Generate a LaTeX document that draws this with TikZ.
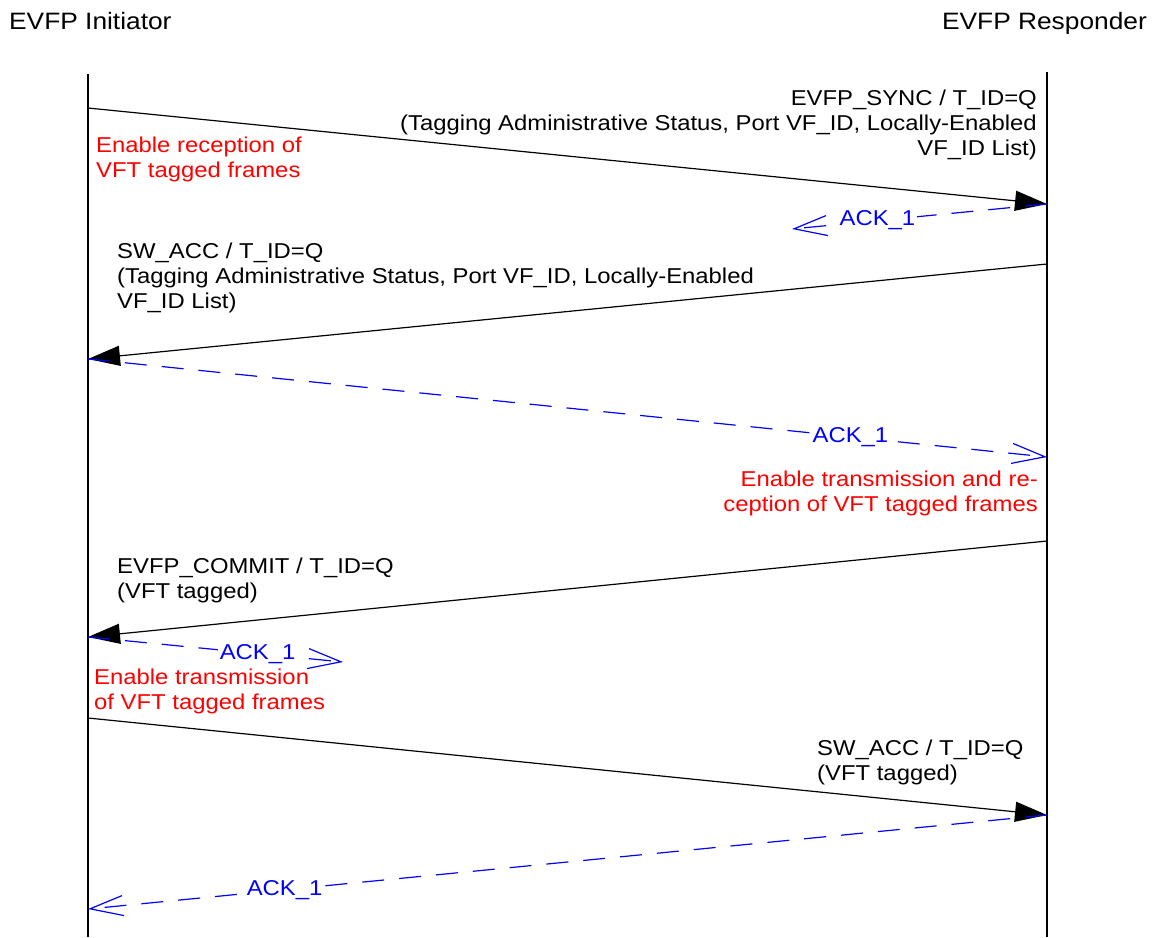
\documentclass[tikz,border=0pt]{standalone}
\usepackage{fontspec}
\setmainfont{Liberation Sans}[FakeStretch=1.11]
\usetikzlibrary{arrows.meta}
\definecolor{ackblue}{RGB}{0,0,255}
\definecolor{notered}{RGB}{255,0,0}
\begin{document}
\begin{tikzpicture}[x=1pt,y=-1pt,
  lifeline/.style={line width=2pt},
  msg/.style={line width=1.2pt, -{Triangle[length=32pt,width=20pt]}},
  ack/.style={draw=ackblue, line width=1.2pt, dash pattern=on 22pt off 15pt,
              -{Straight Barb[length=33pt,width=20pt,line width=1.2pt]}},
  acklabel/.style={fill=white, text=ackblue, font=\fontsize{21.5}{25}\selectfont, inner sep=2pt},
  msglabel/.style={font=\fontsize{21.5}{25}\selectfont, inner sep=0pt},
  note/.style={font=\fontsize{21.5}{25}\selectfont, inner sep=0pt, text=notered},
  title/.style={font=\fontsize{23.7}{28}\selectfont, inner sep=0pt}]

\useasboundingbox (0,0) rectangle (1153,937);

% participants
\node[title, anchor=base west] (init) at (9,29.5) {EVFP Initiator};
\node[title, anchor=base east] (resp) at (1147,29.5) {EVFP Responder};

\coordinate (Ltop) at (88,74);
\coordinate (Lbot) at (88,937);
\coordinate (Rtop) at (1047,72);
\coordinate (Rbot) at (1047,937);
\draw[lifeline] (Ltop) -- (Lbot);
\draw[lifeline] (Rtop) -- (Rbot);

% message end points
\coordinate (L1) at (88,108);
\coordinate (R1) at (1047,204);
\coordinate (A1) at (792,229);
\coordinate (R3) at (1047,264);
\coordinate (L3) at (88,359);
\coordinate (R4) at (1047,457);
\coordinate (R5) at (1047,541);
\coordinate (L5) at (88,637);
\coordinate (A6) at (343,662);
\coordinate (L7) at (88,718);
\coordinate (R7) at (1047,815);
\coordinate (L8) at (88,909);

% messages
\draw[msg] (L1) -- (R1);
\draw[ack] (R1) -- node[acklabel, pos=0.665] (ack1) {ACK\_1} (A1);
\draw[msg] (R3) -- (L3);
\draw[ack] (L3) -- node[acklabel, pos=0.795] (ack2) {ACK\_1} (R4);
\draw[msg] (R5) -- (L5);
\draw[ack] (L5) -- node[acklabel, pos=0.665] (ack3) {ACK\_1} (A6);
\draw[msg] (L7) -- (R7);
\draw[ack] (R7) -- node[acklabel, pos=0.795] (ack4) {ACK\_1} (L8);

% labels
\node[msglabel, anchor=north east, align=right] (m1) at (1037,90)
  {EVFP\_SYNC / T\_ID=Q\\(Tagging Administrative Status, Port VF\_ID, Locally-Enabled\\VF\_ID List)};
\node[note, anchor=north west, align=left] (n1) at (96,137)
  {Enable reception of\\VFT tagged frames};
\node[msglabel, anchor=north west, align=left] (m3) at (117,243)
  {SW\_ACC / T\_ID=Q\\(Tagging Administrative Status, Port VF\_ID, Locally-Enabled\\VF\_ID List)};
\node[note, anchor=north east, align=right] (n2) at (1038,471)
  {Enable transmission and re-\\ception of VFT tagged frames};
\node[msglabel, anchor=north west, align=left] (m5) at (117,558)
  {EVFP\_COMMIT / T\_ID=Q\\(VFT tagged)};
\node[note, anchor=north west, align=left] (n3) at (94,669)
  {Enable transmission\\of VFT tagged frames};
\node[msglabel, anchor=north west, align=left] (m7) at (817,740)
  {SW\_ACC / T\_ID=Q\\(VFT tagged)};
\end{tikzpicture}
\end{document}
